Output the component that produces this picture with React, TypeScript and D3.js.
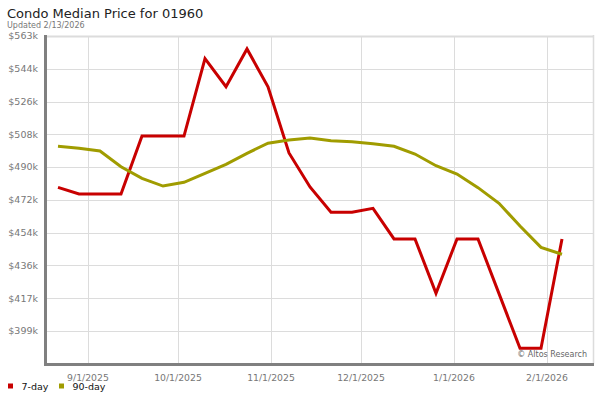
import React from "react";
import * as d3 from "d3";

const title = "Condo Median Price for 01960";
const updated = "Updated 2/13/2026";
const credit = "© Altos Research";

const firstDate = new Date(2025, 7, 22);
const weeks = d3.range(25);
const dates = weeks.map((i) => d3.timeDay.offset(firstDate, i * 7));

const sevenDay = [
  478.9, 475.2, 475.2, 475.2, 507.4, 507.4, 507.4, 550.4, 534.8, 555.8,
  534.8, 498.0, 479.1, 465.0, 465.0, 467.2, 450.2, 450.2, 420.0, 450.2,
  450.2, 419.8, 389.4, 389.4, 450.2,
];
const ninetyDay = [
  501.7, 500.6, 499.1, 490.3, 483.9, 479.6, 481.7, 486.7, 491.7, 497.8,
  503.4, 505.2, 506.3, 504.8, 504.2, 503.1, 501.7, 497.4, 490.9, 486.3,
  478.7, 470.0, 457.4, 445.5, 441.7,
];

const yTickLabels = ["$563k", "$544k", "$526k", "$508k", "$490k", "$472k", "$454k", "$436k", "$417k", "$399k"];
const yTop = 563;
const yStep = 18.22;
const xTickDates = [
  new Date(2025, 8, 1),
  new Date(2025, 9, 1),
  new Date(2025, 10, 1),
  new Date(2025, 11, 1),
  new Date(2026, 0, 1),
  new Date(2026, 1, 1),
];
const xTickLabels = ["9/1/2025", "10/1/2025", "11/1/2025", "12/1/2025", "1/1/2026", "2/1/2026"];

const seriesNames = ["7-day", "90-day"];
const seriesColors = ["#c80000", "#a09c00"];

export default function App() {
  const W = 600, H = 400;
  const left = 46, right = 593, top = 36, bottom = 363.8;
  const x = d3.scaleTime().domain([new Date(2025, 7, 18), new Date(2026, 1, 16)]).range([46, 592]);
  const y = d3.scaleLinear().domain([yTop - 10 * yStep, yTop]).range([bottom, top]);
  const yTicks = yTickLabels.map((_, i) => yTop - i * yStep);
  const line = d3
    .line<number>()
    .x((_, i) => x(dates[i]))
    .y((d) => y(d));
  const font = "'DejaVu Sans', sans-serif";
  const series = [sevenDay, ninetyDay];

  return (
    <svg width={W} height={H} style={{ position: "absolute", left: 0, top: 0, fontFamily: font }}>
      <rect width={W} height={H} fill="#fff" />
      <text x={7} y={18} fontSize={13} fill="#222">{title}</text>
      <text x={7} y={28} fontSize={8} fill="#777">{updated}</text>

      {yTicks.map((t, i) => (
        <line key={"h" + i} x1={left} x2={right} y1={Math.round(y(t)) + 0.5} y2={Math.round(y(t)) + 0.5}
          stroke="#dcdcdc" strokeWidth={i === 0 ? 2 : 1} />
      ))}
      {xTickDates.map((d, i) => (
        <line key={"v" + i} x1={Math.round(x(d)) + 0.5} x2={Math.round(x(d)) + 0.5} y1={top} y2={bottom}
          stroke="#dcdcdc" strokeWidth={1} />
      ))}
      <line x1={right + 0.5} x2={right + 0.5} y1={top - 1} y2={bottom} stroke="#dcdcdc" strokeWidth={1.5} />

      {yTicks.map((t, i) => (
        <text key={"yl" + i} x={38} y={y(t)} dy="0.35em" textAnchor="end" fontSize={9.5} fill="#777">
          {yTickLabels[i]}
        </text>
      ))}
      {xTickDates.map((d, i) => (
        <text key={"xl" + i} x={x(d)} y={380.5} textAnchor="middle" fontSize={9.3} fill="#777">
          {xTickLabels[i]}
        </text>
      ))}

      {series.map((s, k) => (
        <path key={"s" + k} d={line(s) || ""} fill="none" stroke={seriesColors[k]} strokeWidth={3}
          strokeLinejoin="miter" />
      ))}

      <rect x={44} y={35} width={3} height={331} fill="#808080" />
      <rect x={44} y={363} width={550} height={3} fill="#808080" />

      <text x={587} y={357} textAnchor="end" fontSize={8} fill="#666">{credit}</text>

      {seriesNames.map((n, i) => (
        <g key={"lg" + i} transform={`translate(${i === 0 ? 8 : 59},0)`}>
          <rect x={0} y={383.5} width={5} height={5} fill={seriesColors[i]} />
          <text x={13.5} y={390} fontSize={9.5} fill="#111">{n}</text>
        </g>
      ))}
    </svg>
  );
}
